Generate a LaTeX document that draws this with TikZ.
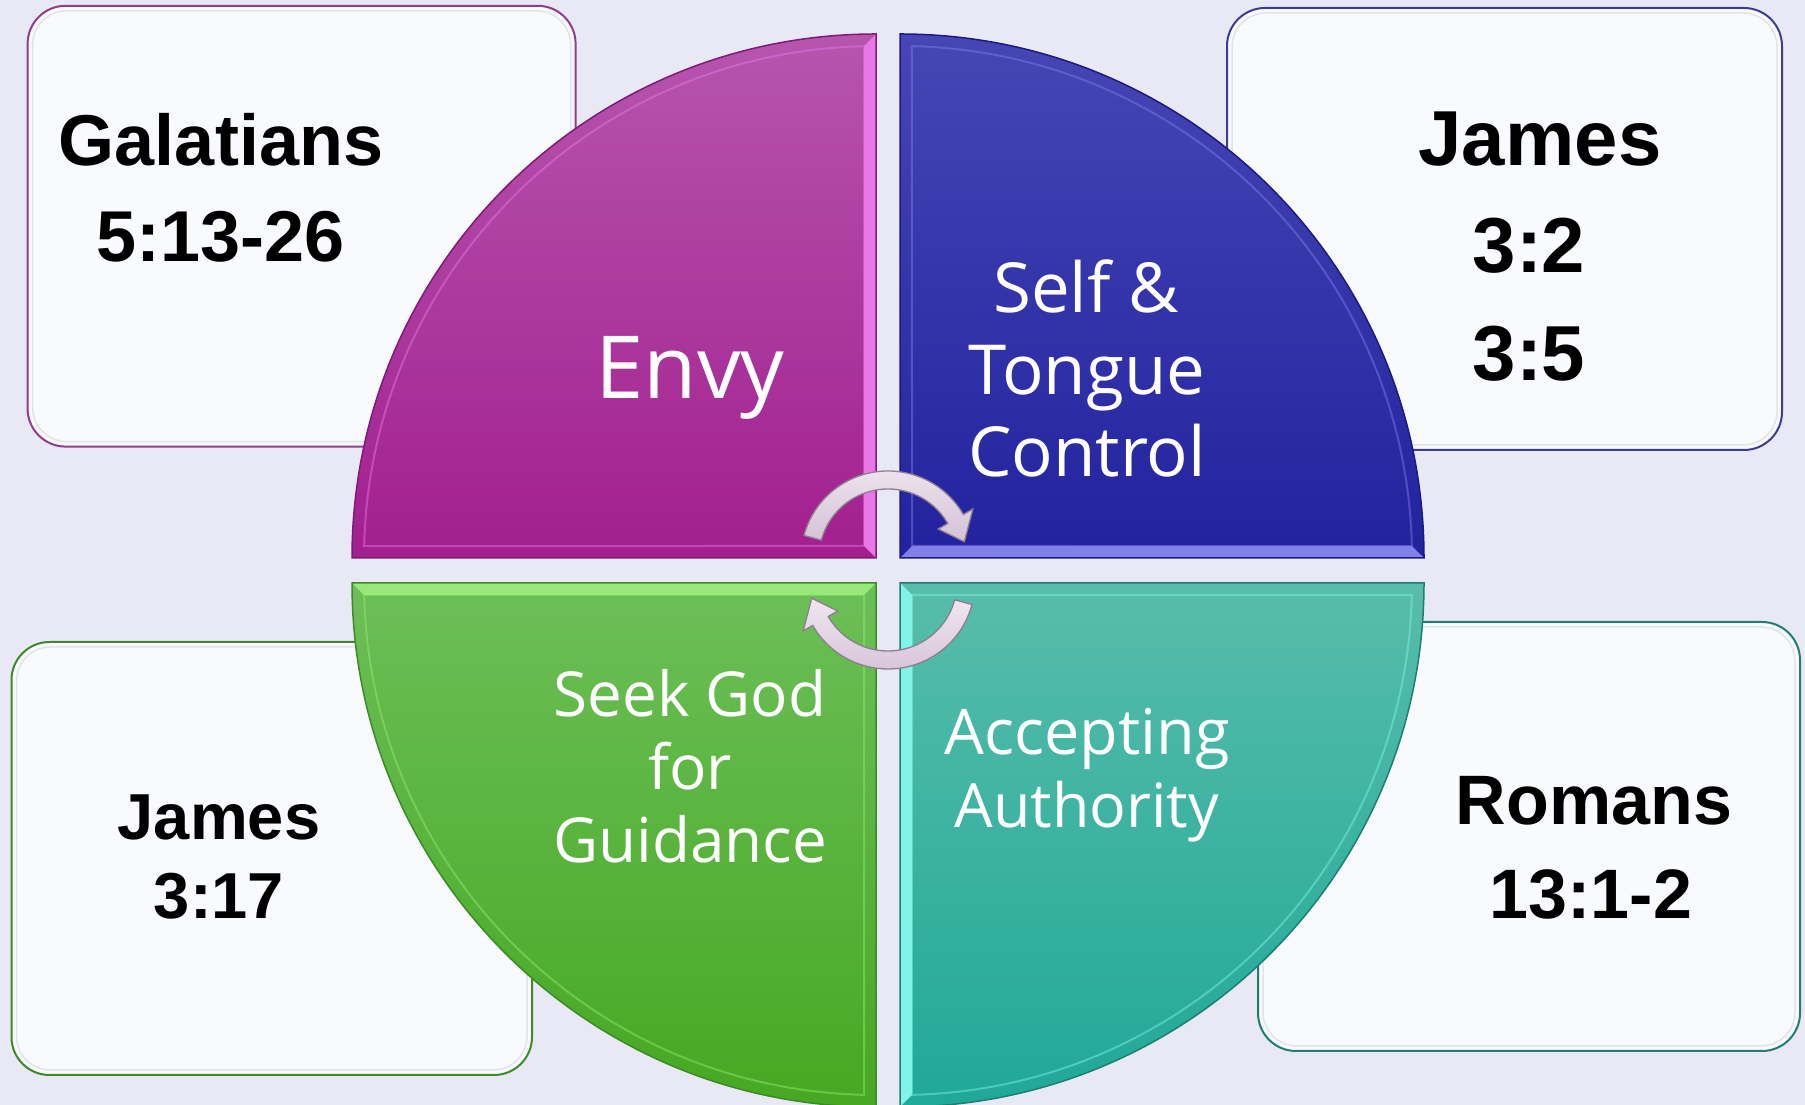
\documentclass[tikz,border=0pt]{standalone}
\usepackage{fontspec}
\newfontfamily\reffont{Liberation Sans}
\newfontfamily\qfont{Open Sans}
\definecolor{bg}{HTML}{E9E9F5}
\definecolor{boxfill}{HTML}{F9FAFD}
\definecolor{boxinner}{HTML}{E2E2EA}
\definecolor{pTop}{HTML}{B655AE}
\definecolor{pBot}{HTML}{A21F8E}
\definecolor{pEdge}{HTML}{7E1A78}
\definecolor{pLight}{HTML}{E878E8}
\definecolor{bTop}{HTML}{4646B6}
\definecolor{bBot}{HTML}{22229E}
\definecolor{bEdge}{HTML}{1A1A80}
\definecolor{bLight}{HTML}{8080E6}
\definecolor{gTop}{HTML}{6CBF58}
\definecolor{gBot}{HTML}{46A822}
\definecolor{gEdge}{HTML}{3C8A28}
\definecolor{gLight}{HTML}{98E878}
\definecolor{tTop}{HTML}{58BDAA}
\definecolor{tBot}{HTML}{20A898}
\definecolor{tEdge}{HTML}{1E7E70}
\definecolor{tLight}{HTML}{80F4E6}
\definecolor{arrTop}{HTML}{F0E6F0}
\definecolor{arrBot}{HTML}{D4C2D6}
\definecolor{arrEdge}{HTML}{8E7E90}
\begin{document}
\begin{tikzpicture}[x=1pt,y=1pt,
  refbox/.style={line width=2pt, fill=boxfill, rounded corners=38pt},
  innerline/.style={draw=boxinner, line width=1.5pt, rounded corners=34pt},
  quadedge/.style={line width=1.5pt},
  bevelline/.style={line width=2pt, opacity=0.45},
  arrowshape/.style={top color=arrTop, bottom color=arrBot, draw=arrEdge, line width=1.3pt},
  reftxt/.style={anchor=base, inner sep=0pt, text=black},
  qtxt/.style={anchor=base, inner sep=0pt, text=white}]
\useasboundingbox (0,0) rectangle (1805,1105);
\fill[bg] (0,0) rectangle (1805,1105);

% reference boxes
\draw[refbox, draw=pEdge!85] (27.6,658.4) rectangle (575.6,1099.2);
\draw[innerline] (32.6,663.4) rectangle (570.6,1094.2);
\draw[refbox, draw=bEdge!85] (1227,655) rectangle (1782,1097);
\draw[innerline] (1232,660) rectangle (1777,1092);
\draw[refbox, draw=gEdge] (11.5,30) rectangle (532,463);
\draw[innerline] (16.5,35) rectangle (527,458);
\draw[refbox, draw=tEdge] (1258,54) rectangle (1800,483);
\draw[innerline] (1263,59) rectangle (1795,478);

% quadrants
% top-left (purple)
\path[top color=pTop, bottom color=pBot] (876,547) -- (352,547) arc[start angle=180,end angle=90,radius=524] -- cycle;
\fill[pLight] (864,559) -- (876,547) -- (876,1071) -- (864,1058.9) -- cycle;
\draw[bevelline, draw=pLight] ([shift={(178.66:512)}]876,547) arc[start angle=178.66,end angle=91.34,radius=512] -- (864,559) -- cycle;
\draw[quadedge, draw=pEdge] (876,547) -- (352,547) arc[start angle=180,end angle=90,radius=524] -- cycle;
% top-right (blue)
\path[top color=bTop, bottom color=bBot] (900,547) -- (900,1071) arc[start angle=90,end angle=0,radius=524] -- cycle;
\fill[bLight] (900,547) -- (1424,547) -- (1411.9,559) -- (912,559) -- cycle;
\draw[bevelline, draw=bLight] ([shift={(88.66:512)}]900,547) arc[start angle=88.66,end angle=1.34,radius=512] -- (912,559) -- cycle;
\draw[quadedge, draw=bEdge] (900,547) -- (900,1071) arc[start angle=90,end angle=0,radius=524] -- cycle;
% bottom-left (green)
\path[top color=gTop, bottom color=gBot] (876,522) -- (352,522) arc[start angle=180,end angle=270,radius=524] -- cycle;
\fill[gLight] (876,522) -- (352,522) -- (364.1,510) -- (864,510) -- cycle;
\draw[bevelline, draw=gLight] ([shift={(181.34:512)}]876,522) arc[start angle=181.34,end angle=268.66,radius=512] -- (864,510) -- cycle;
\draw[quadedge, draw=gEdge] (876,522) -- (352,522) arc[start angle=180,end angle=270,radius=524] -- cycle;
% bottom-right (teal)
\path[top color=tTop, bottom color=tBot] (900,522) -- (1424,522) arc[start angle=0,end angle=-90,radius=524] -- cycle;
\fill[tLight] (900,522) -- (900,-2) -- (912,10.1) -- (912,510) -- cycle;
\draw[bevelline, draw=tLight] ([shift={(-1.34:512)}]900,522) arc[start angle=-1.34,end angle=-88.66,radius=512] -- (912,510) -- cycle;
\draw[quadedge, draw=tEdge] (900,522) -- (1424,522) arc[start angle=0,end angle=-90,radius=524] -- cycle;

% circular arrows
\draw[arrowshape] ([shift={(165:87)}]888,547) arc[start angle=165,end angle=30,radius=87]
  -- ([shift={(30:98)}]888,547) -- ([shift={(12:78)}]888,547) -- ([shift={(30:58)}]888,547)
  -- ([shift={(30:69)}]888,547) arc[start angle=30,end angle=165,radius=69] -- cycle;
\draw[arrowshape] ([shift={(-15:87)}]888,523) arc[start angle=-15,end angle=-150,radius=87]
  -- ([shift={(-150:98)}]888,523) -- ([shift={(-168:78)}]888,523) -- ([shift={(-150:58)}]888,523)
  -- ([shift={(-150:69)}]888,523) arc[start angle=-150,end angle=-15,radius=69] -- cycle;

% reference texts
\node[reftxt, font=\reffont\bfseries\fontsize{72}{86}\selectfont] (gal1) at (221,939) {Galatians};
\node[reftxt, font=\reffont\bfseries\fontsize{72}{86}\selectfont] (gal2) at (221,843) {5:13-26};
\node[reftxt, font=\reffont\bfseries\fontsize{78}{94}\selectfont] (jt1) at (1540,939) {James};
\node[reftxt, font=\reffont\bfseries\fontsize{78}{94}\selectfont] (jt2) at (1529,832) {3:2};
\node[reftxt, font=\reffont\bfseries\fontsize{78}{94}\selectfont] (jt3) at (1529,724) {3:5};
\node[reftxt, font=\reffont\bfseries\fontsize{65}{78}\selectfont] (jb1) at (219,265) {James};
\node[reftxt, font=\reffont\bfseries\fontsize{65}{78}\selectfont] (jb2) at (219,186) {3:17};
\node[reftxt, font=\reffont\bfseries\fontsize{70}{84}\selectfont] (rom1) at (1594,280) {Romans};
\node[reftxt, font=\reffont\bfseries\fontsize{70}{84}\selectfont] (rom2) at (1591,186) {13:1-2};

% quadrant texts
\node[qtxt, font=\qfont\fontsize{87}{104}\selectfont] (envy) at (690,706) {Envy};
\node[qtxt, font=\qfont\fontsize{69}{82}\selectfont] (self1) at (1086,792) {Self \&};
\node[qtxt, font=\qfont\fontsize{69}{82}\selectfont] (self2) at (1087,710) {Tongue};
\node[qtxt, font=\qfont\fontsize{69}{82}\selectfont] (self3) at (1087,628.5) {Control};
\node[qtxt, font=\qfont\fontsize{62}{74}\selectfont] (seek1) at (690,388) {Seek God};
\node[qtxt, font=\qfont\fontsize{62}{74}\selectfont] (seek2) at (690,315) {for};
\node[qtxt, font=\qfont\fontsize{62}{74}\selectfont] (seek3) at (690,242) {Guidance};
\node[qtxt, font=\qfont\fontsize{63}{76}\selectfont] (acc1) at (1087,350) {Accepting};
\node[qtxt, font=\qfont\fontsize{61}{74}\selectfont] (acc2) at (1087,277.4) {Authority};
\end{tikzpicture}
\end{document}
